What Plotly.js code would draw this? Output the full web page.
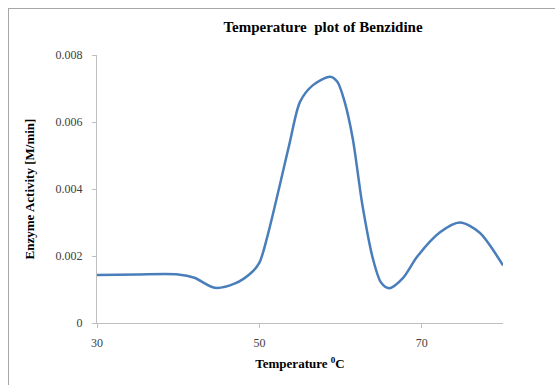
<!DOCTYPE html>
<html>
<head>
<meta charset="utf-8">
<script src="https://cdn.plot.ly/plotly-3.0.1.min.js"></script>
<style>
  html, body { margin: 0; padding: 0; background: #fff; }
  #wrap { position: relative; width: 555px; height: 385px; overflow: hidden; }
  #frame { position: absolute; left: 8px; top: 8px; width: 600px; height: 400px;
           border-left: 1px solid #a6a6a6; border-top: 1px solid #a6a6a6; pointer-events: none; }
  #chart { position: absolute; left: 0; top: 0; width: 555px; height: 385px; }
</style>
</head>
<body>
<div id="wrap">
  <div id="chart"></div>
  <div id="frame"></div>
</div>
<script>
const temperature = [30, 35, 40, 42, 44.5, 47, 49, 50, 51, 52.4, 53.75, 55, 56.6, 58.7, 59.6, 60.5, 61.5, 62.7, 64.0, 65.0, 66.0, 67.7, 69.4, 72.2, 74.7, 77.1, 80];
const activity = [0.00143, 0.00145, 0.00145, 0.00135, 0.00105, 0.00118, 0.0015, 0.0018, 0.0026, 0.0040, 0.0054, 0.0066, 0.0071, 0.00735, 0.0072, 0.0066, 0.0055, 0.0035, 0.0019, 0.0012, 0.00104, 0.00135, 0.00197, 0.0027, 0.0030, 0.0027, 0.00172];
const xTicks = [30, 50, 70];
const yTicks = [0, 0.002, 0.004, 0.006, 0.008];
const yTickText = ['0', '0.002', '0.004', '0.006', '0.008'];

const serif = 'Liberation Serif, Times New Roman, serif';

Plotly.newPlot('chart', [{
  x: temperature,
  y: activity,
  type: 'scatter',
  mode: 'lines',
  line: { color: '#4a7ebb', width: 2.5, shape: 'spline', smoothing: 0.8 },
  hoverinfo: 'none'
}], {
  width: 555, height: 385,
  margin: { l: 97, r: 52, t: 55, b: 62 },
  paper_bgcolor: '#ffffff', plot_bgcolor: '#ffffff',
  showlegend: false,
  title: { text: '<b>Temperature  plot of Benzidine</b>', font: { family: serif, size: 15, color: '#000' },
           x: 0.582, xanchor: 'center', y: 0.93, yanchor: 'middle' },
  xaxis: {
    range: [30, 80], tickvals: xTicks, ticktext: xTicks.map(String),
    showgrid: false, zeroline: false, showline: true, linecolor: '#bfbfbf', linewidth: 1,
    ticks: 'outside', ticklen: 4, tickcolor: '#bfbfbf',
    tickfont: { family: serif, size: 12, color: '#404040' },
    ticklabelstandoff: 5,
    title: { text: '<b>Temperature <sup>0</sup>C</b>', font: { family: serif, size: 13, color: '#000' }, standoff: 9 }
  },
  yaxis: {
    range: [0, 0.008], tickvals: yTicks, ticktext: yTickText,
    showgrid: false, zeroline: false, showline: true, linecolor: '#bfbfbf', linewidth: 1,
    ticks: 'outside', ticklen: 4, tickcolor: '#bfbfbf',
    tickfont: { family: serif, size: 12, color: '#404040' },
    ticklabelstandoff: 7,
    title: { text: '<b>Enzyme Activity [M/min]</b>', font: { family: serif, size: 13, color: '#000' }, standoff: 18 }
  }
}, { staticPlot: true });
</script>
</body>
</html>
